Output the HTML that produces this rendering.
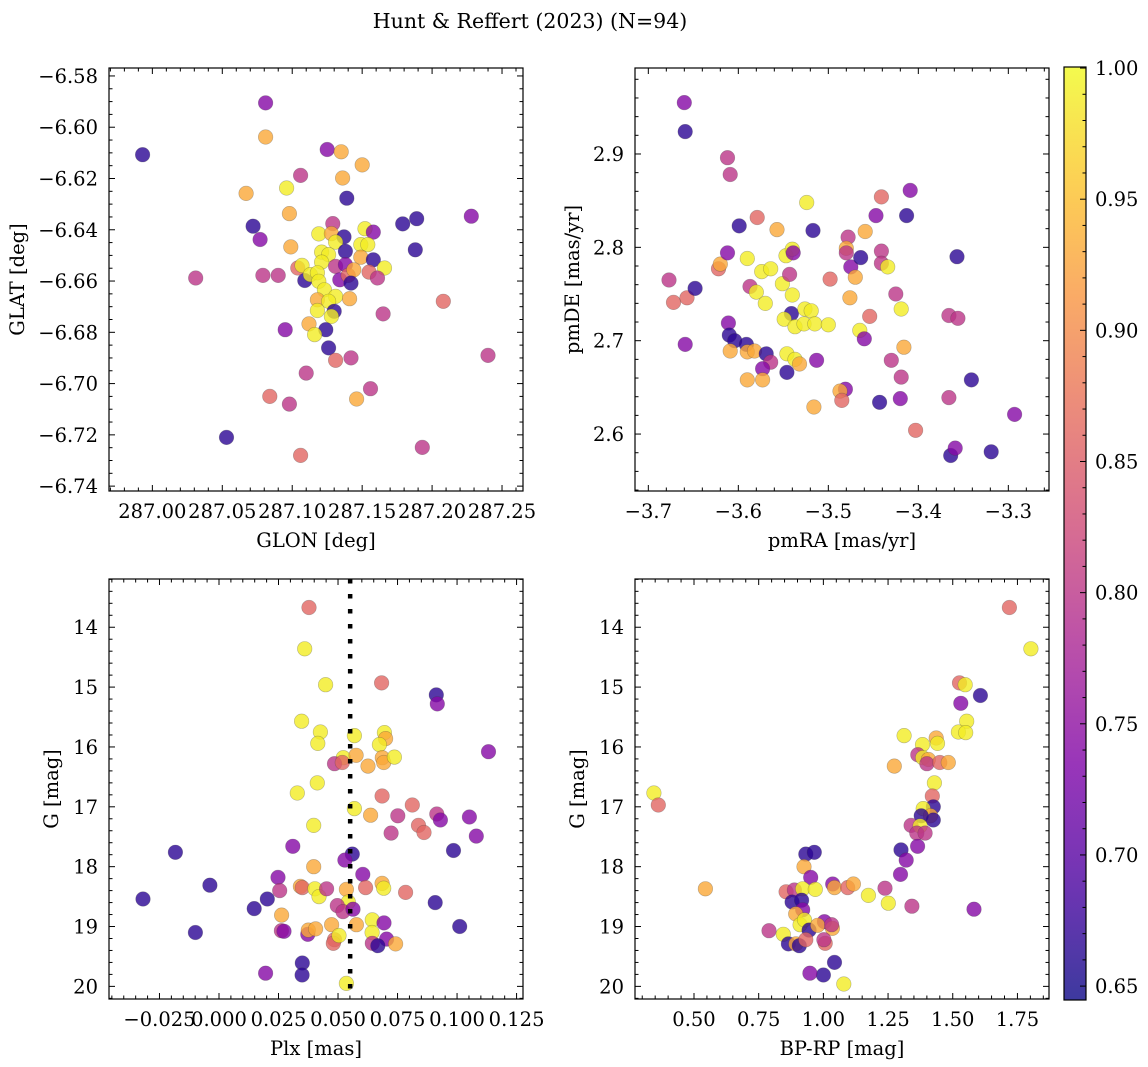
<!DOCTYPE html>
<html><head><meta charset="utf-8"><style>
html,body{margin:0;padding:0;background:#fff;}
svg{display:block;font-family:"DejaVu Serif","Liberation Serif",serif;}
</style></head><body>
<svg id="fig" width="1148" height="1067" viewBox="0 0 1148 1067">
<text x="530" y="28" font-size="20.5" text-anchor="middle">Hunt &amp; Reffert (2023) (N=94)</text>
</svg>
<script>
// ---------- Panel 1: GLON vs GLAT ----------
const glonVals = [286.993,287.081,287.081,287.031,287.125,287.135,287.150,287.106,287.136,287.067,
287.096,287.139,287.098,287.072,287.077,287.099,287.129,287.119,287.128,287.137,
287.131,287.152,287.158,287.149,287.154,287.138,287.121,287.126,287.149,287.158,
287.179,287.189,287.228,287.188,287.166,287.121,287.104,287.107,287.079,287.090,
287.109,287.113,287.118,287.119,287.131,287.138,287.134,287.140,287.144,287.142,
287.155,287.161,287.123,287.131,287.118,287.126,287.141,287.130,287.118,287.128,
287.112,287.124,287.116,287.095,287.165,287.208,287.126,287.131,287.142,287.110,
287.240,287.156,287.146,287.084,287.098,287.053,287.106,287.193];
const glatVals = [-6.6107,-6.5905,-6.6038,-6.6588,-6.6087,-6.6096,-6.6147,-6.6188,-6.6198,-6.6258,
-6.6237,-6.6277,-6.6337,-6.6386,-6.6438,-6.6467,-6.6376,-6.6416,-6.6415,-6.6428,
-6.6448,-6.6396,-6.6409,-6.6458,-6.6458,-6.6484,-6.6487,-6.6497,-6.6507,-6.6517,
-6.6377,-6.6357,-6.6347,-6.6478,-6.6549,-6.6526,-6.6549,-6.6539,-6.6578,-6.6578,
-6.6598,-6.6575,-6.6568,-6.6601,-6.6543,-6.6536,-6.6595,-6.6578,-6.6556,-6.6608,
-6.6565,-6.6588,-6.6634,-6.6660,-6.6673,-6.6679,-6.6669,-6.6718,-6.6715,-6.6738,
-6.6767,-6.6790,-6.6809,-6.6790,-6.6728,-6.6679,-6.6861,-6.6909,-6.6900,-6.6959,
-6.6890,-6.7020,-6.7060,-6.7050,-6.7080,-6.7210,-6.7280,-6.7249];
const prob1 = [.665,.74,.93,.80,.74,.93,.93,.80,.93,.93,
.99,.665,.93,.665,.74,.93,.80,.99,.93,.665,
.99,.99,.74,.99,.99,.665,.99,.99,.93,.665,
.665,.665,.74,.665,.99,.99,.86,.99,.80,.80,
.665,.99,.99,.99,.80,.74,.74,.86,.93,.665,
.86,.80,.99,.99,.93,.99,.93,.665,.99,.99,
.93,.665,.99,.74,.80,.86,.665,.86,.80,.80,
.80,.80,.93,.86,.80,.665,.86,.80];

// ---------- Panel 2: pmRA vs pmDE ----------
const pmraVals = [-3.660,-3.659,-3.612,-3.609,-3.677,-3.672,-3.657,-3.648,-3.659,-3.622,
-3.620,-3.612,-3.599,-3.579,-3.557,-3.524,-3.517,-3.611,-3.610,-3.604,
-3.591,-3.609,-3.590,-3.582,-3.569,-3.564,-3.573,-3.590,-3.573,-3.546,
-3.590,-3.587,-3.580,-3.570,-3.574,-3.564,-3.547,-3.540,-3.539,-3.551,
-3.543,-3.540,-3.541,-3.549,-3.537,-3.527,-3.526,-3.519,-3.515,-3.500,
-3.546,-3.537,-3.532,-3.513,-3.516,-3.498,-3.478,-3.480,-3.480,-3.475,
-3.464,-3.470,-3.476,-3.459,-3.447,-3.441,-3.441,-3.441,-3.434,-3.454,
-3.465,-3.460,-3.425,-3.419,-3.416,-3.413,-3.409,-3.430,-3.419,-3.481,
-3.487,-3.485,-3.443,-3.420,-3.403,-3.366,-3.356,-3.357,-3.366,-3.341,
-3.364,-3.359,-3.319,-3.293];
const pmdeVals = [2.955,2.924,2.896,2.878,2.765,2.741,2.746,2.756,2.696,2.777,
2.782,2.794,2.823,2.832,2.819,2.848,2.818,2.719,2.706,2.700,
2.696,2.689,2.688,2.689,2.686,2.677,2.670,2.658,2.658,2.666,
2.788,2.758,2.752,2.740,2.774,2.777,2.791,2.798,2.794,2.761,
2.771,2.749,2.729,2.723,2.715,2.718,2.734,2.732,2.718,2.717,
2.686,2.680,2.675,2.679,2.629,2.766,2.811,2.799,2.794,2.779,
2.789,2.768,2.746,2.817,2.834,2.854,2.796,2.783,2.779,2.726,
2.711,2.702,2.750,2.734,2.693,2.834,2.861,2.679,2.661,2.648,
2.646,2.636,2.634,2.638,2.604,2.727,2.724,2.790,2.639,2.658,
2.577,2.585,2.581,2.621];
const prob2 = [.74,.665,.80,.80,.80,.86,.86,.665,.74,.86,
.93,.74,.665,.86,.93,.99,.665,.74,.665,.665,
.665,.93,.93,.93,.665,.80,.74,.93,.93,.665,
.99,.80,.99,.99,.99,.99,.99,.99,.74,.99,
.80,.99,.665,.99,.99,.99,.99,.99,.99,.99,
.99,.99,.93,.74,.93,.86,.80,.93,.80,.74,
.665,.93,.93,.93,.74,.86,.80,.80,.99,.86,
.99,.74,.80,.99,.93,.665,.74,.80,.80,.74,
.93,.86,.665,.74,.86,.80,.80,.665,.80,.665,
.665,.74,.665,.74];

// ---------- Panel 3: Plx vs G ----------
const plxVals = [0.0378,0.0360,0.0448,0.0683,0.0913,0.0917,0.1132,0.0347,0.0426,0.0415,
0.0569,0.0695,0.0700,0.0674,0.0522,0.0576,0.0485,0.0518,0.0626,0.0686,
0.0692,0.0737,0.0413,0.0329,0.0685,0.0812,0.0569,0.0637,0.0751,0.0915,
0.0930,0.1052,0.0838,0.0861,0.0723,0.1081,0.0398,0.0310,-0.0183,0.0985,
0.0560,0.0529,0.0398,0.0604,0.0248,-0.0038,-0.0319,0.0203,0.0148,0.0255,
0.0342,0.0350,0.0403,0.0420,0.0452,0.0535,0.0616,0.0685,0.0692,0.0784,
0.0908,0.1011,0.0543,0.0497,0.0521,0.0563,0.0263,-0.0099,0.0262,0.0273,
0.0373,0.0375,0.0406,0.0473,0.0577,0.0485,0.0480,0.0504,0.0644,0.0643,
0.0693,0.0704,0.0644,0.0667,0.0742,0.0350,0.0349,0.0196,0.0535];
const gPlxVals = [13.67,14.36,14.96,14.93,15.13,15.28,16.08,15.57,15.75,15.94,
15.81,15.76,15.86,15.96,16.18,16.14,16.28,16.26,16.32,16.18,
16.26,16.17,16.60,16.77,16.82,16.97,17.03,17.14,17.15,17.12,
17.22,17.17,17.31,17.43,17.44,17.49,17.31,17.66,17.76,17.73,
17.79,17.89,18.00,18.13,18.18,18.31,18.54,18.54,18.70,18.40,
18.33,18.35,18.37,18.50,18.37,18.38,18.35,18.28,18.36,18.43,
18.60,19.00,18.59,18.65,18.75,18.71,18.81,19.10,19.07,19.08,
19.13,19.06,19.04,18.97,18.97,19.22,19.28,19.15,18.89,19.10,
18.94,19.21,19.28,19.32,19.29,19.61,19.81,19.78,19.95];
const prob3 = [.86,.99,.99,.86,.665,.74,.74,.99,.99,.99,
.99,.99,.93,.99,.99,.93,.80,.86,.93,.93,
.93,.99,.99,.99,.86,.86,.99,.93,.80,.80,
.74,.74,.86,.86,.80,.74,.99,.74,.665,.665,
.665,.74,.93,.74,.74,.665,.665,.665,.665,.80,
.93,.86,.99,.99,.80,.93,.86,.93,.99,.86,
.665,.665,.99,.80,.80,.74,.93,.665,.80,.74,
.74,.93,.93,.93,.93,.86,.86,.99,.99,.99,
.74,.74,.80,.665,.93,.665,.665,.74,.99];
const plxLine = [0.0551];

// ---------- Panel 4: BP-RP vs G ----------
const bprpVals = [1.719,1.802,1.526,1.548,1.607,1.531,1.554,1.522,1.550,1.312,
1.436,1.441,1.383,1.365,1.384,1.406,1.400,1.450,1.483,1.274,
1.429,1.421,1.425,1.386,1.414,1.378,1.425,1.339,1.374,1.361,
1.393,1.364,1.300,1.320,1.298,0.932,0.965,0.925,0.951,1.036,
1.043,1.094,1.116,1.174,1.238,1.251,1.342,1.582,0.544,0.345,
0.362,0.856,0.888,0.920,0.969,0.879,0.916,0.920,0.893,0.910,
0.927,0.945,1.004,0.978,1.035,1.032,0.790,0.845,0.865,0.894,
0.907,0.932,1.007,1.002,1.043,1.000,0.948,1.079];
const gCmdVals = [13.67,14.36,14.93,14.96,15.14,15.27,15.57,15.75,15.76,15.81,
15.85,15.94,15.96,16.13,16.18,16.21,16.28,16.26,16.26,16.32,
16.60,16.82,17.00,17.03,17.15,17.15,17.22,17.31,17.32,17.44,
17.44,17.66,17.72,17.89,18.13,17.79,17.76,18.00,18.18,18.29,
18.35,18.35,18.29,18.48,18.36,18.61,18.66,18.71,18.37,16.77,
16.97,18.42,18.39,18.37,18.38,18.59,18.56,18.72,18.79,18.97,
18.89,19.06,18.92,18.98,19.03,18.97,19.07,19.13,19.29,19.29,
19.32,19.22,19.28,19.22,19.60,19.81,19.78,19.96];
const prob4 = [.86,.99,.86,.99,.665,.74,.99,.99,.99,.99,
.93,.99,.99,.80,.99,.93,.80,.86,.93,.93,
.99,.86,.665,.99,.93,.665,.665,.80,.99,.80,
.80,.74,.665,.74,.74,.665,.665,.93,.74,.74,
.93,.86,.93,.99,.80,.99,.80,.74,.93,.99,
.86,.86,.80,.99,.99,.665,.665,.74,.93,.99,
.99,.665,.74,.93,.93,.80,.80,.99,.665,.93,
.665,.86,.86,.80,.665,.665,.74,.99];

// ---------- Colorbar ----------
const cbarTicks = [0.65,0.70,0.75,0.80,0.85,0.90,0.95,1.00];
const cbarMin = 0.6447, cbarMax = 1.0004;

const FS = 19.5;
const NS = "http://www.w3.org/2000/svg";
const svg = document.getElementById('fig');
function mk(tag, attrs, parent){
  const e = document.createElementNS(NS, tag);
  for (const k in attrs) e.setAttribute(k, attrs[k]);
  (parent||svg).appendChild(e);
  return e;
}
const plasma = [[13,8,135],[76,2,161],[126,3,168],[169,35,149],[204,71,120],[229,107,93],[248,148,65],[253,195,40],[240,249,33]];
function cmap(v){
  let t = (v - cbarMin)/(cbarMax - cbarMin);
  t = Math.max(0, Math.min(1, t));
  const f = t*(plasma.length-1), i = Math.min(plasma.length-2, Math.floor(f)), r = f - i;
  const a = plasma[i], b = plasma[i+1];
  return 'rgb(' + [0,1,2].map(k => Math.round(a[k]+(b[k]-a[k])*r)).join(',') + ')';
}
function fmt(v, d){ const s = Math.abs(v) < 1e-9 ? (0).toFixed(d) : v.toFixed(d); return s.replace('-', '\u2212'); }

function panel(cfg){
  const g = mk('g', {});
  
  
  const L = cfg.L, R = cfg.R, T = cfg.T, B = cfg.B;
  const sx = v => L + (v - cfg.x0)/(cfg.x1 - cfg.x0)*(R - L);
  const sy = cfg.invert ? (v => T + (v - cfg.y0)/(cfg.y1 - cfg.y0)*(B - T))
                        : (v => B - (v - cfg.y0)/(cfg.y1 - cfg.y0)*(B - T));
  const n = Math.min(cfg.xs.length, cfg.ys.length, cfg.ps.length);
  const pg = mk('g', {}, g);
  
  
  for (let i = 0; i < n; i++){
    const c = mk('circle', {cx: sx(cfg.xs[i]).toFixed(1), cy: sy(cfg.ys[i]).toFixed(1), r: 7.3,
      fill: cmap(cfg.ps[i]), 'fill-opacity': 0.8, stroke: 'rgba(60,60,60,0.35)', 'stroke-width': 0.6}, pg);
    
    
  }
  if (cfg.vline){
    for (const v of cfg.vline){
      const ln = mk('line', {x1: sx(v), x2: sx(v), y1: T, y2: B, stroke: '#000', 'stroke-width': 4.5, 'stroke-dasharray': '4.5 10.5'}, g);
      
      
    }
  }
  const tg = mk('g', {stroke: '#000', 'stroke-width': 1}, g);
  const eps = 1e-9;
  for (let v = Math.ceil(cfg.x0/cfg.xmin - eps)*cfg.xmin; v <= cfg.x1 + eps; v += cfg.xmin){
    const major = Math.abs(v/cfg.xmaj - Math.round(v/cfg.xmaj)) < 1e-4;
    const len = major ? 6 : 3.5, x = sx(v);
    mk('line', {x1: x, x2: x, y1: B, y2: B - len}, tg);
    mk('line', {x1: x, x2: x, y1: T, y2: T + len}, tg);
  }
  for (let v = Math.ceil(Math.min(cfg.y0,cfg.y1)/cfg.ymin - eps)*cfg.ymin; v <= Math.max(cfg.y0,cfg.y1) + eps; v += cfg.ymin){
    const major = Math.abs(v/cfg.ymaj - Math.round(v/cfg.ymaj)) < 1e-4;
    const len = major ? 6 : 3.5, y = sy(v);
    mk('line', {x1: L, x2: L + len, y1: y, y2: y}, tg);
    mk('line', {x1: R, x2: R - len, y1: y, y2: y}, tg);
  }
  for (const v of cfg.xticks){
    const t = mk('text', {x: sx(v), y: B + 27, 'font-size': FS, 'text-anchor': 'middle'}, g);
    t.textContent = fmt(v, cfg.xd);
    
    
  }
  for (const v of cfg.yticks){
    const t = mk('text', {x: L - 11, y: sy(v) + 7, 'font-size': FS, 'text-anchor': 'end'}, g);
    t.textContent = fmt(v, cfg.yd);
    
    
  }
  const fr = mk('rect', {x: L, y: T, width: R - L, height: B - T, fill: 'none', stroke: '#000', 'stroke-width': 1.2}, g);
  
  
  const xl = mk('text', {x: (L + R)/2, y: B + 56, 'font-size': FS, 'text-anchor': 'middle'}, g);
  xl.textContent = cfg.xlabel;
  
  
  const yl = mk('text', {x: 0, y: 0, 'font-size': FS, 'text-anchor': 'middle', transform: 'translate(' + cfg.ylx + ',' + ((T + B)/2) + ') rotate(-90)'}, g);
  yl.textContent = cfg.ylabel;
  
  
}
function range(a, b, s){ const r = []; for (let v = a; v <= b + 1e-9; v += s) r.push(+v.toFixed(6)); return r; }

panel({name: 'panel-glon-glat', L: 109, R: 523, T: 68, B: 491, x0: 286.969, x1: 287.265, y0: -6.7419, y1: -6.5769,
  xs: glonVals, ys: glatVals, ps: prob1, xmaj: 0.05, xmin: 0.01, ymaj: 0.02, ymin: 0.005,
  xticks: range(287.00, 287.25, 0.05), yticks: range(-6.74, -6.58, 0.02), xd: 2, yd: 2,
  xlabel: 'GLON [deg]', ylabel: 'GLAT [deg]', ylx: 24});
panel({name: 'panel-pmra-pmde', L: 635, R: 1049, T: 68, B: 491, x0: -3.7148, x1: -3.2548, y0: 2.539, y1: 2.9921,
  xs: pmraVals, ys: pmdeVals, ps: prob2, xmaj: 0.1, xmin: 0.02, ymaj: 0.1, ymin: 0.02,
  xticks: range(-3.7, -3.3, 0.1), yticks: range(2.6, 2.9, 0.1), xd: 1, yd: 1,
  xlabel: 'pmRA [mas/yr]', ylabel: 'pmDE [mas/yr]', ylx: 579});
panel({name: 'panel-plx-g', L: 109, R: 523, T: 579, B: 999, x0: -0.0462, x1: 0.1277, y0: 13.194, y1: 20.211, invert: true,
  xs: plxVals, ys: gPlxVals, ps: prob3, xmaj: 0.025, xmin: 0.005, ymaj: 1, ymin: 0.2, vline: plxLine,
  xticks: range(-0.025, 0.125, 0.025), yticks: range(14, 20, 1), xd: 3, yd: 0,
  xlabel: 'Plx [mas]', ylabel: 'G [mag]', ylx: 58});
panel({name: 'panel-bprp-g', L: 635, R: 1049, T: 579, B: 999, x0: 0.272, x1: 1.872, y0: 13.194, y1: 20.211, invert: true,
  xs: bprpVals, ys: gCmdVals, ps: prob4, xmaj: 0.25, xmin: 0.05, ymaj: 1, ymin: 0.2,
  xticks: range(0.5, 1.75, 0.25), yticks: range(14, 20, 1), xd: 2, yd: 0,
  xlabel: 'BP-RP [mag]', ylabel: 'G [mag]', ylx: 584});

(function(){
  const L = 1064, R = 1086, T = 67, B = 1000;
  const g = mk('g', {});
  
  
  const defs = mk('defs', {}, g);
  const lg = mk('linearGradient', {id: 'cbg', x1: 0, y1: 1, x2: 0, y2: 0}, defs);
  for (let i = 0; i <= 20; i++){
    const v = cbarMin + (cbarMax - cbarMin)*i/20;
    mk('stop', {offset: (i/20).toFixed(3), 'stop-color': cmap(v)}, lg);
  }
  mk('rect', {x: L, y: T, width: R - L, height: B - T, fill: 'url(#cbg)', 'fill-opacity': 0.8}, g);
  const sy = v => B - (v - cbarMin)/(cbarMax - cbarMin)*(B - T);
  for (let v = 0.65; v <= 1.0 + 1e-9; v += 0.01){
    const major = Math.abs(v/0.05 - Math.round(v/0.05)) < 1e-4;
    mk('line', {x1: R, x2: R - (major ? 6 : 3.5), y1: sy(v), y2: sy(v), stroke: '#000', 'stroke-width': 1}, g);
  }
  for (const v of cbarTicks){
    const t = mk('text', {x: R + 9, y: sy(v) + 7, 'font-size': FS}, g);
    t.textContent = v.toFixed(2);
    
    
  }
  mk('rect', {x: L, y: T, width: R - L, height: B - T, fill: 'none', stroke: '#000', 'stroke-width': 1.2}, g);
})();
</script>
</body></html>
